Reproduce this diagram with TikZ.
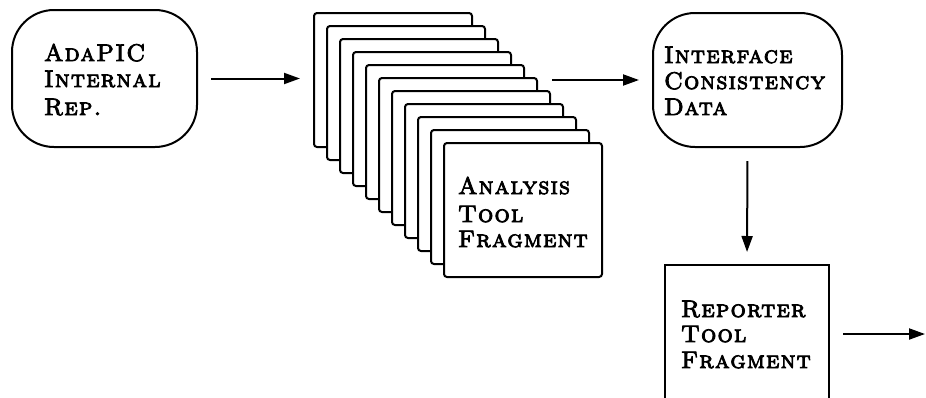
\documentclass[tikz,border=0pt]{standalone}
\usepackage{fontspec}
\newfontfamily\capsfont{lmromancaps10-regular.otf}[FakeBold=3.5,LetterSpace=5]
\usetikzlibrary{arrows.meta}
\begin{document}
\begin{tikzpicture}[x=1pt,y=-1pt,line width=2pt,
  sheet/.style={draw,fill=white,rounded corners=3pt,inner sep=0pt,
    minimum width=158pt,minimum height=134pt,anchor=north west},
  blob/.style={draw,rounded corners=42pt,inner sep=0pt},
  plain/.style={draw,inner sep=0pt},
  lbl/.style={anchor=base west,inner sep=0pt,font=\capsfont\fontsize{24}{28}\selectfont},
  arr/.style={-{Triangle[length=16pt,width=11pt]},line width=2pt}]
\useasboundingbox (0,0) rectangle (926,397);
\clip (0,0) rectangle (926,397);
% nodes
\node[blob,minimum width=185pt,minimum height=137pt] (ada) at (104.5,78.5) {};
\foreach \k in {0,...,10}
  \node[sheet] (s\k) at ({313+13*\k},{12+13*\k}) {};
\node[blob,minimum width=189pt,minimum height=134pt] (ifc) at (747.5,80) {};
\node[plain,anchor=north,minimum width=164pt,minimum height=160pt] (rep) at (747,264) {};
\coordinate (out) at (925,334);
% labels
\node[lbl] (a1) at (43,61) {AdaPIC};
\node[lbl] (a2) at (43,87) {Internal};
\node[lbl] (a3) at (43,115) {Rep.};
\node[lbl] (i1) at (663,63) {Interface};
\node[lbl] (i2) at (663,89) {Consistency};
\node[lbl] (i3) at (663,115) {Data};
\node[lbl] (t1) at (457,194) {Analysis};
\node[lbl] (t2) at (457,222) {Tool};
\node[lbl] (t3) at (457,247) {Fragment};
\node[lbl] (r1) at (680,317) {Reporter};
\node[lbl] (r2) at (680,342) {Tool};
\node[lbl] (r3) at (680,368) {Fragment};
% connectors
\draw[arr,shorten <=13pt,shorten >=13pt] (ada.east) -- (s0.west |- ada.east);
\draw[arr,shorten <=14pt,shorten >=13pt] (s5.east |- ifc.west) -- (ifc.west);
\draw[arr,shorten <=13pt,shorten >=12pt] (ifc.south) -- (rep.north);
\draw[arr,shorten <=13pt] (rep.east |- out) -- (out);
\end{tikzpicture}
\end{document}
